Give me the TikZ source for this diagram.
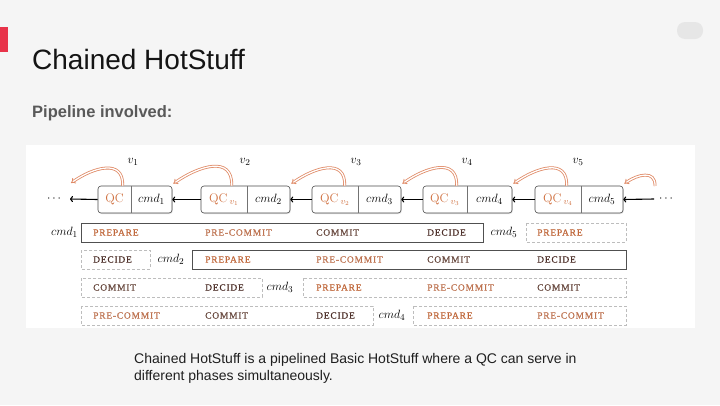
\documentclass[tikz,border=0pt]{standalone}
\usepackage{fontspec}
\newfontfamily\arialfam{Liberation Sans}
\newfontfamily\phfont{Liberation Serif}[LetterSpace=8,FakeBold=0.6]
\usetikzlibrary{arrows.meta,shadows,calc}
\definecolor{slidebg}{HTML}{F5F5F5}
\definecolor{redbar}{HTML}{E8334A}
\definecolor{pillgray}{HTML}{E6E6E6}
\definecolor{subgray}{HTML}{595959}
\definecolor{qcorange}{HTML}{D0703F}
\definecolor{arroworange}{HTML}{E08A66}
\definecolor{cprep}{HTML}{C0673A}
\definecolor{cprec}{HTML}{BE7350}
\definecolor{ccomm}{HTML}{6B4C42}
\definecolor{cdec}{HTML}{4E302A}
\definecolor{solidline}{HTML}{505050}
\definecolor{dashline}{HTML}{BDBDBD}
\begin{document}
\begin{tikzpicture}[x=1pt,y=1pt,
  blk/.style={draw=black!70, line width=0.6pt, rounded corners=3pt, fill=white,
    minimum height=27pt, inner sep=0pt,
    drop shadow={opacity=0.22,shadow xshift=0.8pt,shadow yshift=-1pt}},
  divline/.style={draw=black!55, line width=0.5pt},
  celltxt/.style={inner sep=0pt, font=\fontsize{12.5}{14}\selectfont},
  qctxt/.style={celltxt, text=qcorange},
  chainarrow/.style={line width=1.1pt, -{To[length=3pt,width=6pt]}},
  vote/.style={draw=arroworange, double=white, double distance=1.3pt, line width=0.8pt, -{Implies}},
  solidrow/.style={draw=solidline, line width=0.6pt},
  dashrow/.style={draw=dashline, line width=0.5pt, dash pattern=on 3pt off 2pt},
  ph/.style={anchor=west, inner sep=0pt, font=\phfont\fontsize{9.5}{11}\selectfont},
  prep/.style={ph, text=cprep},
  prec/.style={ph, text=cprec},
  comm/.style={ph, text=ccomm},
  dec/.style={ph, text=cdec},
  slidetext/.style={anchor=base west, inner sep=0pt}
]
% background
\fill[slidebg] (0,0) rectangle (720,-405);
\useasboundingbox (0,0) rectangle (720,-405);
\fill[redbar] (0,-27) rectangle (8,-52);
\fill[pillgray, rounded corners=8pt] (677,-22) rectangle (703,-39);
\fill[white] (26,-145) rectangle (695,-328);

% titles
\node[slidetext, font=\arialfam\fontsize{28}{32}\selectfont, text=black!92] (title) at (32,-69) {Chained HotStuff};
\node[slidetext, font=\arialfam\bfseries\fontsize{16.5}{19}\selectfont, text=subgray] (sub) at (32,-117) {Pipeline involved:};
\node[slidetext, font=\arialfam\fontsize{14}{17}\selectfont, text=black!88] (cap1) at (134,-363) {Chained HotStuff is a pipelined Basic HotStuff where a QC can serve in};
\node[slidetext, font=\arialfam\fontsize{14}{17}\selectfont, text=black!88] (cap2) at (134,-380) {different phases simultaneously.};

% blocks
\node[blk, minimum width=74pt] (b1) at (135,-199.5) {};
\node[blk, minimum width=89pt] (b2) at (245.5,-199.5) {};
\node[blk, minimum width=89pt] (b3) at (356.5,-199.5) {};
\node[blk, minimum width=89pt] (b4) at (467.5,-199.5) {};
\node[blk, minimum width=88pt] (b5) at (579,-199.5) {};

\draw[divline] (131,-186) -- (131,-213);
\draw[divline] (247,-186) -- (247,-213);
\draw[divline] (358,-186) -- (358,-213);
\draw[divline] (467,-186) -- (467,-213);
\draw[divline] (581,-186) -- (581,-213);

\node[qctxt] (q1) at (114.5,-199.5) {QC};
\node[celltxt] (c1) at (151.5,-199.5) {$cmd_1$};
\node[qctxt] (q2) at (224,-199.5) {QC\,$_{v_1}$};
\node[celltxt] (c2) at (268.5,-199.5) {$cmd_2$};
\node[qctxt] (q3) at (335,-199.5) {QC\,$_{v_2}$};
\node[celltxt] (c3) at (379.5,-199.5) {$cmd_3$};
\node[qctxt] (q4) at (445,-199.5) {QC\,$_{v_3}$};
\node[celltxt] (c4) at (489.5,-199.5) {$cmd_4$};
\node[qctxt] (q5) at (558,-199.5) {QC\,$_{v_4}$};
\node[celltxt] (c5) at (602,-199.5) {$cmd_5$};

\node[celltxt] (v1) at (133,-162) {$v_1$};
\node[celltxt] (v2) at (245,-162) {$v_2$};
\node[celltxt] (v3) at (356,-162) {$v_3$};
\node[celltxt] (v4) at (467,-162) {$v_4$};
\node[celltxt] (v5) at (578,-162) {$v_5$};

% dots and chain arrows
\node[celltxt] (ldots) at (54,-199) {$\cdots$};
\node[celltxt] (rdots) at (666,-199) {$\cdots$};
\coordinate (lend) at (70,-199);
\coordinate (rstart) at (654,-199);
\draw[chainarrow] (b1.west) -- (lend);
\draw[chainarrow] (b2.west) -- (b1.east);
\draw[chainarrow] (b3.west) -- (b2.east);
\draw[chainarrow] (b4.west) -- (b3.east);
\draw[chainarrow] (b5.west) -- (b4.east);
\draw[chainarrow] (rstart) -- (b5.east);

% QC vote arrows
\coordinate (s1) at ($(b1.north west)+(25,0)$);
\coordinate (e1) at (71,-183);
\coordinate (s2) at ($(b2.north west)+(31,0)$);
\coordinate (s3) at ($(b3.north west)+(33,0)$);
\coordinate (s4) at ($(b4.north west)+(34,0)$);
\coordinate (s5) at ($(b5.north west)+(32,0)$);
\coordinate (s6) at (655,-186);
\draw[vote] (s1) to[out=88,in=35,looseness=1.35] (e1);
\draw[vote] (s2) to[out=88,in=35,looseness=1.35] ($(b1.north east)+(1,2)$);
\draw[vote] (s3) to[out=88,in=35,looseness=1.35] ($(b2.north east)+(1,2)$);
\draw[vote] (s4) to[out=88,in=35,looseness=1.35] ($(b3.north east)+(1,2)$);
\draw[vote] (s5) to[out=88,in=35,looseness=1.35] ($(b4.north east)+(1,2)$);
\draw[vote] (s6) to[out=88,in=35,looseness=1.35] ($(b5.north east)+(1,2)$);

% pipeline rows
% row 1
\draw[solidrow] (81,-223) rectangle (483,-242);
\draw[dashrow] (526,-223) rectangle (626,-242);
\node[celltxt, anchor=east] (r1cmd) at (78,-232.5) {$cmd_1$};
\node[celltxt] (r1cmd5) at (504,-232.5) {$cmd_5$};
\node[prep] (r1a) at (93,-232.5) {PREPARE};
\node[prec] (r1b) at (205,-232.5) {PRE-COMMIT};
\node[comm] (r1c) at (316,-232.5) {COMMIT};
\node[dec] (r1d) at (427,-232.5) {DECIDE};
\node[prep] (r1e) at (537,-232.5) {PREPARE};
% row 2
\draw[dashrow] (81,-250) rectangle (150,-269);
\draw[solidrow] (192,-250) rectangle (626,-269);
\node[celltxt] (r2cmd) at (171,-259.5) {$cmd_2$};
\node[dec] (r2a) at (93,-259.5) {DECIDE};
\node[prep] (r2b) at (205,-259.5) {PREPARE};
\node[prec] (r2c) at (316,-259.5) {PRE-COMMIT};
\node[comm] (r2d) at (427,-259.5) {COMMIT};
\node[dec] (r2e) at (537,-259.5) {DECIDE};
% row 3
\draw[dashrow] (81,-278) rectangle (262,-297);
\draw[dashrow] (303,-278) rectangle (626,-297);
\node[celltxt] (r3cmd) at (280,-287.5) {$cmd_3$};
\node[comm] (r3a) at (93,-287.5) {COMMIT};
\node[dec] (r3b) at (205,-287.5) {DECIDE};
\node[prep] (r3c) at (316,-287.5) {PREPARE};
\node[prec] (r3d) at (427,-287.5) {PRE-COMMIT};
\node[comm] (r3e) at (537,-287.5) {COMMIT};
% row 4
\draw[dashrow] (81,-306) rectangle (373,-325);
\draw[dashrow] (413,-306) rectangle (626,-325);
\node[celltxt] (r4cmd) at (392,-315.5) {$cmd_4$};
\node[prec] (r4a) at (93,-315.5) {PRE-COMMIT};
\node[comm] (r4b) at (205,-315.5) {COMMIT};
\node[dec] (r4c) at (316,-315.5) {DECIDE};
\node[prep] (r4d) at (427,-315.5) {PREPARE};
\node[prec] (r4e) at (537,-315.5) {PRE-COMMIT};
\end{tikzpicture}
\end{document}
